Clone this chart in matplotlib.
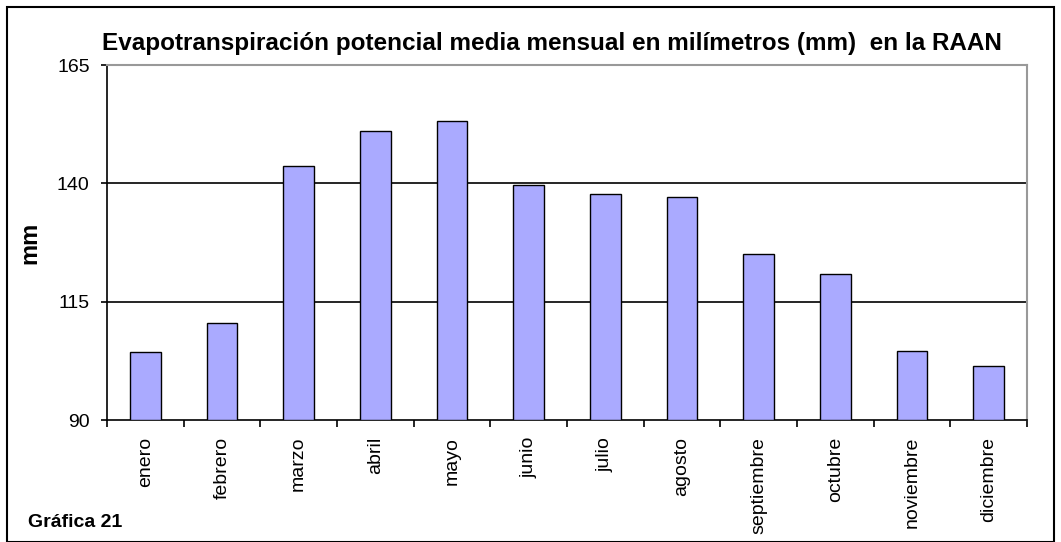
import matplotlib
matplotlib.use("Agg")
import matplotlib.pyplot as plt
from matplotlib.patches import Rectangle

months = ["enero", "febrero", "marzo", "abril", "mayo", "junio", "julio",
          "agosto", "septiembre", "octubre", "noviembre", "diciembre"]
values = [104.4, 110.4, 143.6, 151.1, 153.2, 139.7, 137.8, 137.2, 125.0, 120.8, 104.6, 101.4]
yticks = [90, 115, 140, 165]

plt.rcParams['font.family'] = ['Liberation Sans', 'DejaVu Sans']

W, H = 1061, 542
fig = plt.figure(figsize=(W / 100, H / 100), dpi=100)
fig.patch.set_facecolor('white')

# outer frame
fig.add_artist(Rectangle((7 / W, 0.0), (1054 - 7) / W, (H - 7) / H, transform=fig.transFigure,
                         fill=False, edgecolor='black', linewidth=1.5))

ax = fig.add_axes([107 / W, 1 - 420 / H, (1027 - 107) / W, (420 - 65) / H])
x = list(range(len(months)))
ax.bar(x, [v - 90 for v in values], bottom=90, width=0.4, color='#AAAAFF',
       edgecolor='black', linewidth=1.0, zorder=3)
ax.set_xlim(-0.5, len(months) - 0.5)
ax.set_ylim(90, 165)
ax.set_yticks(yticks)
ax.set_yticklabels([str(t) for t in yticks], fontsize=14)
for t in yticks[1:3]:
    ax.axhline(t, color='black', linewidth=1.2, zorder=1)

ax.set_xticks(x)
ax.set_xticklabels(months, rotation=90, fontsize=14)
ax.tick_params(axis='x', length=0, pad=12)
ax.set_xticks([i - 0.5 for i in range(len(months) + 1)], minor=True)
ax.tick_params(axis='x', which='minor', length=5, width=1.2, direction='out', color='black')
ax.tick_params(axis='y', length=4.5, width=1.2, direction='out', pad=8)

for s in ['left', 'bottom']:
    ax.spines[s].set_color('black')
    ax.spines[s].set_linewidth(1.2)
for s in ['top', 'right']:
    ax.spines[s].set_color('#999999')
    ax.spines[s].set_linewidth(1.5)

fig.text(30 / W, 1 - 243 / H, 'mm', rotation=90, ha='center', va='center',
         fontsize=17, fontweight='bold')

fig.text(552 / W, 1 - 50 / H,
         "Evapotranspiración potencial media mensual en milímetros (mm)  en la RAAN",
         ha='center', va='baseline', fontsize=17.5, fontweight='bold')
fig.text(28 / W, 1 - 527 / H, "Gráfica 21", ha='left', va='baseline',
         fontsize=14, fontweight='bold')

fig.savefig('out.png', dpi=100)
